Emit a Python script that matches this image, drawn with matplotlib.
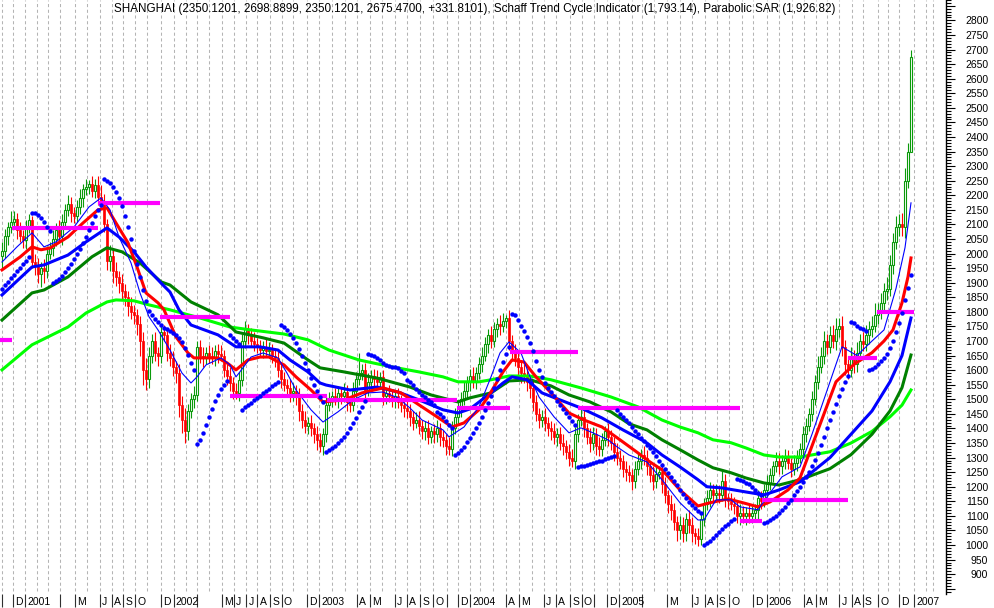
import numpy as np
import matplotlib.pyplot as plt
from matplotlib.patches import Rectangle
from matplotlib.ticker import FixedLocator, MultipleLocator, NullFormatter
import matplotlib.transforms as mtransforms

# weekly closes (one bar per week)
closes = [
    2010, 2060, 2090, 2110, 2120, 2080, 2060, 2045, 2090, 2115,
    1970, 1960, 1930, 1950, 1940, 2000, 2020, 2050, 2080, 2060,
    2110, 2150, 2170, 2140, 2130, 2160, 2190, 2220, 2230, 2240,
    2215, 2235, 2195, 2180, 2100, 1975, 1990, 1940, 1920, 1900,
    1870, 1850, 1820, 1800, 1790, 1760, 1700, 1600, 1570, 1650,
    1700, 1660, 1650, 1730, 1720, 1660, 1640, 1610, 1590, 1480,
    1430, 1390, 1460, 1500, 1515, 1680, 1650, 1640, 1660, 1650,
    1640, 1665, 1655, 1650, 1600, 1580, 1555, 1530, 1520, 1565,
    1700, 1740, 1720, 1700, 1690, 1680, 1670, 1680, 1665, 1670,
    1650, 1640, 1600, 1570, 1550, 1540, 1520, 1530, 1510, 1460,
    1430, 1410, 1420, 1400, 1380, 1360, 1340, 1380, 1480, 1500,
    1510, 1500, 1520, 1510, 1525, 1490, 1480, 1530, 1570, 1590,
    1600, 1530, 1560, 1580, 1570, 1560, 1575, 1510, 1520, 1510,
    1500, 1510, 1490, 1480, 1470, 1460, 1440, 1420, 1430, 1410,
    1390, 1400, 1370, 1390, 1380, 1400, 1370, 1360, 1340, 1330,
    1400, 1440, 1470, 1500, 1530, 1560, 1580, 1560, 1590, 1620,
    1650, 1690, 1720, 1700, 1740, 1760, 1750, 1770, 1780, 1700,
    1660, 1640, 1610, 1590, 1580, 1560, 1540, 1490, 1450, 1430,
    1440, 1420, 1400, 1390, 1370, 1380, 1350, 1340, 1320, 1300,
    1290, 1380, 1430, 1440, 1400, 1370, 1350, 1380, 1340, 1330,
    1360, 1390, 1370, 1350, 1320, 1300, 1290, 1260, 1250, 1240,
    1220, 1260, 1290, 1310, 1300, 1270, 1240, 1220, 1245, 1250,
    1210, 1170, 1140, 1120, 1080, 1050, 1070, 1040, 1090, 1070,
    1040, 1030, 1020, 1090, 1140, 1160, 1190, 1170, 1180, 1170,
    1220, 1160, 1150, 1140, 1135, 1100, 1110, 1100, 1110, 1100,
    1110, 1120, 1160, 1150, 1190, 1210, 1240, 1270, 1290, 1270,
    1290, 1300, 1280, 1260, 1280, 1300, 1330, 1380, 1410, 1450,
    1500, 1560, 1610, 1650, 1700, 1680, 1720, 1700, 1740, 1750,
    1680, 1620, 1600, 1640, 1620, 1660, 1700, 1690, 1720, 1740,
    1750, 1790, 1800, 1830, 1870, 1880, 1960, 2040, 2090, 2100,
    2090, 2250, 2350.12, 2675.47,
]
first_open = 1990

# wick lengths above / below the body (index points)
wick_hi = [
    30, 25, 20, 35, 25, 20, 30, 20, 25, 20,
    15, 30, 25, 20, 30, 25, 20, 30, 25, 35,
    25, 20, 30, 25, 20, 25, 30, 20, 25, 12,
    25, 20, 30, 40, 25, 20, 40, 25, 30, 20,
    30, 25, 20, 30, 25, 20, 25, 30, 40, 30,
    25, 30, 20, 30, 25, 20, 30, 25, 20, 30,
    30, 40, 25, 20, 30, 20, 25, 30, 20, 25,
    30, 20, 25, 30, 20, 25, 30, 20, 25, 30,
    25, 30, 20, 25, 30, 20, 25, 20, 30, 25,
    20, 25, 30, 20, 25, 20, 30, 25, 20, 30,
    25, 30, 20, 25, 20, 30, 25, 20, 30, 25,
    20, 30, 25, 20, 30, 25, 20, 30, 25, 69,
    20, 25, 30, 20, 25, 30, 20, 25, 20, 30,
    25, 20, 30, 25, 20, 30, 25, 20, 25, 30,
    20, 25, 30, 20, 25, 30, 20, 25, 20, 30,
    25, 30, 20, 25, 30, 20, 25, 30, 20, 25,
    30, 25, 20, 30, 25, 20, 30, 25, 10, 25,
    20, 30, 25, 20, 30, 25, 20, 30, 25, 20,
    25, 30, 20, 25, 30, 20, 25, 30, 20, 25,
    30, 25, 20, 30, 25, 20, 30, 25, 20, 30,
    25, 20, 30, 25, 20, 30, 25, 20, 30, 25,
    20, 30, 25, 20, 30, 25, 20, 30, 25, 20,
    30, 25, 20, 30, 25, 20, 30, 25, 20, 30,
    25, 20, 30, 25, 20, 30, 25, 20, 30, 25,
    35, 25, 20, 30, 25, 20, 30, 25, 20, 30,
    25, 20, 30, 25, 20, 30, 25, 20, 30, 25,
    20, 30, 25, 20, 30, 25, 20, 30, 25, 20,
    30, 25, 40, 30, 35, 25, 30, 35, 40, 30,
    35, 25, 30, 40, 30, 35, 25, 30, 35, 30,
    35, 40, 30, 35, 30, 40, 35, 30, 40, 35,
    40, 45, 30, 23.42,
]
wick_lo = [
    40, 25, 30, 20, 25, 30, 20, 25, 30, 20,
    20, 35, 30, 45, 40, 25, 20, 30, 25, 20,
    30, 25, 20, 30, 25, 20, 25, 30, 20, 25,
    20, 25, 30, 20, 25, 30, 35, 40, 30, 35,
    25, 30, 35, 25, 30, 40, 50, 50, 38, 30,
    25, 30, 35, 25, 20, 30, 25, 30, 35, 40,
    45, 40, 30, 25, 30, 20, 25, 30, 20, 25,
    20, 25, 30, 20, 25, 30, 25, 30, 20, 25,
    20, 25, 30, 20, 25, 20, 25, 30, 20, 25,
    25, 30, 25, 30, 20, 25, 30, 25, 30, 35,
    30, 25, 30, 25, 30, 35, 20, 30, 25, 20,
    25, 20, 30, 25, 20, 30, 25, 20, 25, 20,
    25, 30, 20, 25, 30, 20, 25, 30, 25, 20,
    25, 30, 20, 25, 30, 25, 30, 25, 20, 30,
    25, 30, 25, 20, 30, 25, 30, 25, 30, 20,
    25, 20, 25, 30, 20, 25, 30, 20, 25, 20,
    25, 20, 30, 25, 20, 25, 30, 20, 25, 30,
    30, 25, 30, 35, 25, 30, 35, 30, 25, 30,
    25, 30, 25, 30, 25, 30, 25, 30, 25, 30,
    22, 30, 25, 20, 30, 25, 30, 25, 30, 25,
    25, 20, 30, 25, 30, 25, 30, 25, 30, 25,
    30, 25, 20, 30, 25, 30, 25, 30, 25, 20,
    30, 25, 30, 35, 30, 35, 30, 30, 25, 30,
    30, 25, 22, 20, 25, 20, 30, 25, 20, 25,
    20, 30, 25, 20, 30, 25, 30, 25, 30, 25,
    25, 20, 30, 25, 20, 25, 20, 25, 20, 25,
    25, 30, 20, 25, 20, 25, 20, 30, 25, 20,
    25, 20, 25, 20, 30, 25, 20, 25, 30, 25,
    30, 35, 30, 25, 30, 25, 30, 25, 25, 30,
    25, 20, 30, 25, 25, 30, 25, 30, 25, 30,
    30, 35, 25, 0,
]

# parabolic SAR, one dot per week
sar = [
    1880, 1892, 1904, 1916, 1928, 1940, 1952, 1964, 1976, 1988,
    2140, 2138, 2132, 2122, 2108, 2092, 2076,
    1900, 1906, 1914, 1924, 1936, 1950, 1965, 1981, 1998, 2016, 2036, 2058, 2080, 2104, 2128, 2150, 2168,
    2255, 2250, 2242, 2230, 2212, 2190, 2162, 2128, 2090, 2050, 2008, 1964, 1920, 1876, 1836, 1804,
    1790, 1776, 1764, 1754, 1746, 1740, 1734, 1728, 1720, 1710, 1696, 1676, 1652, 1626, 1600,
    1345, 1362, 1385, 1412, 1440, 1468, 1494, 1516, 1535, 1550, 1562,
    1720, 1712, 1700, 1690,
    1464, 1472, 1480, 1488, 1496, 1504, 1512, 1520, 1528, 1536, 1544, 1552, 1560,
    1755, 1748, 1738, 1725, 1710, 1693, 1673, 1650, 1626, 1600, 1574, 1550, 1528, 1508, 1490,
    1319, 1325, 1332, 1340, 1349, 1360, 1372, 1386, 1401, 1418, 1436, 1455, 1475, 1495,
    1656, 1652, 1647, 1642, 1634, 1626, 1618, 1615, 1612, 1610, 1608, 1598, 1590, 1567, 1558,
    1550, 1537, 1525, 1516, 1507, 1498, 1490, 1481, 1457, 1448, 1440, 1426, 1412, 1400,
    1310, 1316, 1325, 1338, 1352, 1368, 1385, 1403, 1420, 1440, 1462, 1486, 1512, 1540, 1570,
    1600, 1628, 1654, 1678,
    1792, 1790, 1772, 1752, 1733, 1713, 1693, 1665, 1630, 1600, 1575, 1556, 1540, 1525, 1510,
    1495, 1480, 1466, 1452, 1438, 1425, 1412,
    1268, 1270, 1272, 1275, 1278, 1281, 1284, 1287, 1290, 1294, 1298, 1302, 1306,
    1462, 1450, 1440, 1430, 1418, 1405, 1392, 1380, 1368, 1356, 1344, 1332, 1318, 1304, 1290,
    1276, 1262, 1248, 1234, 1220, 1205, 1190, 1176, 1162, 1148, 1136, 1126, 1118, 1110,
    1000, 1007, 1015, 1024, 1034, 1044, 1054, 1064, 1073, 1081, 1088,
    1225, 1222, 1218, 1213, 1208, 1200, 1190, 1180, 1170,
    1076, 1080, 1086, 1093, 1101, 1110, 1120, 1131, 1143, 1156, 1170, 1185, 1200, 1216, 1232,
    1250, 1270, 1292, 1316, 1342, 1370, 1400, 1430, 1458, 1485, 1510, 1535, 1558, 1580,
    1766, 1762, 1751, 1745, 1740, 1736,
    1600, 1605, 1612, 1620, 1630, 1642, 1657, 1675, 1700, 1730, 1762, 1797, 1841, 1882, 1926.82,
]

# moving averages, read at selected weeks
ma_thin_x = [0, 5, 10, 14, 18, 24, 29, 33, 36, 39, 43, 46, 49, 52, 56, 60, 63, 65, 68, 73,
             76, 78, 79, 83, 87, 92, 95, 98, 103, 107, 112, 117, 122, 127, 132, 136, 140, 147,
             149, 154, 159, 163, 166, 169, 173, 176, 179, 184, 189, 193, 197, 202, 205, 209,
             215, 220, 226, 232, 234, 238, 243, 246, 252, 256, 260, 266, 270, 276, 280, 285,
             290, 294, 298, 301, 303]
ma_thin_y = [1971, 2023, 2071, 2023, 2040, 2091, 2160, 2191, 2150, 2057, 1968, 1865, 1783, 1738,
             1669, 1590, 1556, 1577, 1618, 1642, 1618, 1577, 1590, 1645, 1659, 1642, 1590, 1532,
             1464, 1422, 1457, 1498, 1522, 1525, 1505, 1470, 1429, 1395, 1371, 1405, 1474, 1577,
             1659, 1697, 1659, 1577, 1508, 1440, 1385, 1402, 1385, 1361, 1337, 1309, 1285, 1224,
             1145, 1086, 1086, 1155, 1155, 1131, 1121, 1179, 1234, 1268, 1380, 1560, 1680, 1650,
             1700, 1738, 1880, 2020, 2174]

ma_red_x = [0, 6, 10, 13, 16, 22, 27, 32, 35, 38, 42, 45, 48, 52, 54, 58, 62, 64, 72, 75, 78,
            82, 86, 89, 94, 98, 103, 107, 114, 120, 127, 133, 139, 145, 150, 154, 159, 162, 167,
            170, 174, 178, 183, 189, 194, 200, 206, 212, 216, 220, 226, 232, 236, 242, 247, 252,
            256, 262, 266, 272, 278, 284, 290, 294, 297, 300, 302, 303]
ma_red_y = [1944, 1988, 2023, 2013, 2019, 2057, 2105, 2150, 2157, 2105, 2037, 1954, 1865, 1831,
            1807, 1714, 1659, 1642, 1642, 1625, 1601, 1635, 1645, 1645, 1618, 1577, 1532, 1491,
            1498, 1522, 1539, 1522, 1481, 1440, 1405, 1419, 1464, 1508, 1594, 1635, 1628, 1577,
            1522, 1453, 1429, 1405, 1361, 1316, 1285, 1258, 1189, 1134, 1145, 1158, 1145, 1131,
            1148, 1189, 1230, 1395, 1560, 1620, 1660, 1700, 1738, 1831, 1920, 1985]

ma_blue_x = [0, 10, 14, 22, 28, 35, 39, 44, 48, 53, 56, 59, 63, 72, 78, 86, 92, 96, 102, 106,
             108, 116, 125, 132, 139, 147, 152, 156, 163, 167, 170, 175, 180, 186, 193, 200, 207,
             213, 215, 220, 226, 232, 235, 240, 248, 254, 259, 266, 276, 283, 290, 296, 300, 303]
ma_blue_y = [1858, 1954, 1961, 1995, 2040, 2088, 2057, 2006, 1954, 1899, 1868, 1807, 1755, 1721,
             1680, 1680, 1669, 1635, 1594, 1556, 1549, 1532, 1542, 1525, 1498, 1464, 1453, 1467,
             1522, 1556, 1577, 1567, 1522, 1498, 1470, 1436, 1395, 1362, 1350, 1309, 1268, 1224,
             1200, 1196, 1182, 1172, 1189, 1217, 1300, 1380, 1460, 1560, 1650, 1779]

ma_dkgreen_x = [0, 10, 14, 22, 30, 35, 40, 46, 53, 56, 63, 72, 78, 87, 94, 102, 106, 114, 125,
                136, 143, 152, 156, 163, 169, 176, 183, 189, 196, 203, 209, 215, 220, 226, 232,
                237, 243, 248, 254, 259, 266, 276, 283, 290, 296, 300, 303]
ma_dkgreen_y = [1772, 1865, 1875, 1920, 1989, 2020, 2006, 1968, 1903, 1892, 1834, 1790, 1731,
                1711, 1693, 1635, 1608, 1594, 1573, 1542, 1515, 1491, 1505, 1522, 1563, 1567,
                1546, 1515, 1491, 1457, 1416, 1395, 1361, 1327, 1292, 1265, 1248, 1230, 1213,
                1206, 1224, 1262, 1310, 1380, 1460, 1540, 1652]

ma_ltgreen_x = [0, 10, 22, 28, 35, 38, 44, 49, 56, 66, 76, 83, 94, 102, 109, 119, 130, 139, 147,
                152, 159, 163, 169, 176, 183, 193, 203, 212, 220, 226, 232, 237, 243, 248, 254,
                259, 266, 276, 283, 290, 296, 300, 303]
ma_ltgreen_y = [1601, 1687, 1748, 1796, 1834, 1841, 1838, 1824, 1807, 1779, 1748, 1738, 1724,
                1704, 1669, 1635, 1611, 1594, 1577, 1560, 1560, 1567, 1580, 1580, 1567, 1539,
                1508, 1474, 1429, 1405, 1385, 1361, 1351, 1333, 1309, 1302, 1302, 1320, 1350,
                1390, 1440, 1480, 1532]

# horizontal levels (start week, end week, price)
lvl_start = [-0.7, 3.3, 32, 52.7, 76, 108.3, 151.7, 169.3, 192, 246, 253.3, 282, 291.7]
lvl_end = [3.3, 32, 52.7, 76, 108.3, 151.7, 169.3, 192, 246, 253.3, 282, 291.7, 304]
lvl_price = [1704, 2088, 2174, 1783, 1513, 1498, 1471, 1662, 1471, 1083, 1155, 1642, 1800]

# month boundaries (in weeks) and their axis labels
month_pos = [-0.1, 3.77, 7.67, 11.57, 15.43, 19.33, 24.33, 28.43, 32.67, 36.57, 40.43, 44.33,
             48.23, 53.0, 57.17, 61.33, 65.0, 69.0, 73.23, 77.23, 81.43, 85.1, 89.33, 93.23,
             97.1, 101.57, 105.67, 109.9, 114.33, 118.23, 122.67, 126.57, 131.0, 134.9, 139.33,
             143.77, 148.23, 152.1, 156.0, 159.33, 163.77, 168.0, 172.43, 176.57, 180.67,
             184.67, 189.33, 193.23, 197.33, 201.57, 205.77, 209.9, 213.23, 217.33, 221.57,
             226.0, 229.9, 234.33, 238.23, 242.33, 246.57, 250.43, 254.9, 259.0, 263.23,
             267.33, 271.33, 275.0, 279.1, 283.23, 286.9, 292.1, 295.33, 299.0, 304.1, 308.0,
             310.3]
tick_pos = [-0.1, 3.77, 7.67, 19.33, 24.33, 32.67, 36.57, 40.43, 44.33, 53.0, 57.17, 65.0,
            73.23, 77.23, 81.43, 85.1, 89.33, 93.23, 101.57, 105.67, 118.23, 122.67, 131.0,
            134.9, 139.33, 143.77, 148.23, 152.1, 156.0, 168.0, 172.43, 180.67, 184.67,
            189.33, 193.23, 197.33, 201.57, 205.77, 213.23, 221.57, 229.9, 234.33, 238.23,
            242.33, 250.43, 254.9, 267.33, 271.33, 279.1, 283.23, 286.9, 292.1, 299.0, 304.1]
tick_lab = ['', 'D', '2001', '', 'M', 'J', 'A', 'S', 'O', 'D', '2002', '',
            'M', 'J', 'J', 'A', 'S', 'O', 'D', '2003', 'A', 'M', 'J',
            'A', 'S', 'O', '', 'D', '2004', 'A', 'M', 'J', 'A',
            'S', 'O', '', 'D', '2005', '', 'M', 'J', 'A', 'S',
            'O', 'D', '2006', 'A', 'M', 'J', 'A', 'S', 'O', 'D', '2007']

title = ("SHANGHAI (2350.1201, 2698.8899, 2350.1201, 2675.4700, +331.8101), "
         "Schaff Trend Cycle Indicator (1,793.14), Parabolic SAR (1,926.82)")

font = 'Liberation Sans'
up_col = '#0a9a0a'
dn_col = '#ff0000'

fig = plt.figure(figsize=(9.94, 6.08), dpi=100)
ax = fig.add_axes([0, 14 / 608, 946 / 994, 594 / 608])
ax.set_xlim(-0.667, 314.67)
ax.set_ylim(832, 2870)

# month grid
trans = mtransforms.blended_transform_factory(ax.transData, ax.transAxes)
ax.vlines(month_pos, 0.005, 1, transform=trans, colors='#b4b4b4', linewidth=0.75,
          linestyles=(0, (3, 2.5)), zorder=0)

# candles
closes_a = np.array(closes, dtype=float)
opens_a = np.concatenate([[first_open], closes_a[:-1]])
hi_a = np.maximum(opens_a, closes_a) + np.array(wick_hi)
lo_a = np.minimum(opens_a, closes_a) - np.array(wick_lo)
xs = np.arange(len(closes_a))
up = closes_a >= opens_a

ax.vlines(xs[up], lo_a[up], hi_a[up], colors=up_col, linewidth=0.8, zorder=2)
ax.vlines(xs[~up], lo_a[~up], hi_a[~up], colors=dn_col, linewidth=0.8, zorder=2)
bw = 0.72
for x, o, c, u in zip(xs, opens_a, closes_a, up):
    bot = min(o, c)
    h = max(abs(c - o), 3)
    if u:
        ax.add_patch(Rectangle((x - bw / 2, bot), bw, h, facecolor='white',
                               edgecolor=up_col, linewidth=0.8, zorder=3))
    else:
        ax.add_patch(Rectangle((x - bw / 2, bot), bw, h, facecolor=dn_col,
                               edgecolor=dn_col, linewidth=0.5, zorder=3))

# moving averages
ax.plot(ma_ltgreen_x, ma_ltgreen_y, color='#00ff00', linewidth=2.2, zorder=4)
ax.plot(ma_dkgreen_x, ma_dkgreen_y, color='#008000', linewidth=2.2, zorder=4)
ax.plot(ma_blue_x, ma_blue_y, color='#0000ff', linewidth=2.2, zorder=4)
ax.plot(ma_red_x, ma_red_y, color='#ff0000', linewidth=2.2, zorder=5)
ax.plot(ma_thin_x, ma_thin_y, color='#0000ff', linewidth=0.8, zorder=5)

# support / resistance levels
for s, e, p in zip(lvl_start, lvl_end, lvl_price):
    ax.plot([s, e], [p, p], color='#ff00ff', linewidth=3, zorder=6,
            solid_capstyle='butt')

# parabolic SAR
ax.plot(xs, sar, linestyle='none', marker='o', markersize=3.2, color='#0000ff',
        markeredgewidth=0, zorder=7)

# y axis on the right
for sp in ['left', 'top', 'bottom']:
    ax.spines[sp].set_visible(False)
ax.spines['right'].set_linewidth(1)
ax.yaxis.tick_right()
ax.yaxis.set_major_locator(FixedLocator(np.arange(850, 2851, 50)))
ax.yaxis.set_minor_locator(MultipleLocator(10))
ylabels = [str(int(v)) if 900 <= v <= 2800 else '' for v in np.arange(850, 2851, 50)]
ax.set_yticklabels(ylabels)
ax.tick_params(axis='y', which='major', length=6.5, width=0.8, direction='out', pad=24,
               labelsize=7.5, colors='black')
ax.tick_params(axis='y', which='minor', length=3.5, width=0.8, direction='out')
for lab in ax.get_yticklabels():
    lab.set_horizontalalignment('right')
    lab.set_fontfamily(font)

# x axis month ticks
ax.set_xticks(tick_pos)
ax.xaxis.set_major_formatter(NullFormatter())
ax.tick_params(axis='x', which='major', length=9, width=0.8, direction='out', color='#303030')
for pos, lab in zip(tick_pos, tick_lab):
    ax.annotate(lab, xy=(pos, 0), xycoords=trans, xytext=(1.6, -2.2),
                textcoords='offset points', ha='left', va='top', fontsize=7.5,
                family=font, annotation_clip=False)

ax.text(0.502, 0.985, title, transform=ax.transAxes, ha='center', va='center',
        fontsize=8.4, family=font, zorder=8)

fig.savefig('out.png', dpi=100)
